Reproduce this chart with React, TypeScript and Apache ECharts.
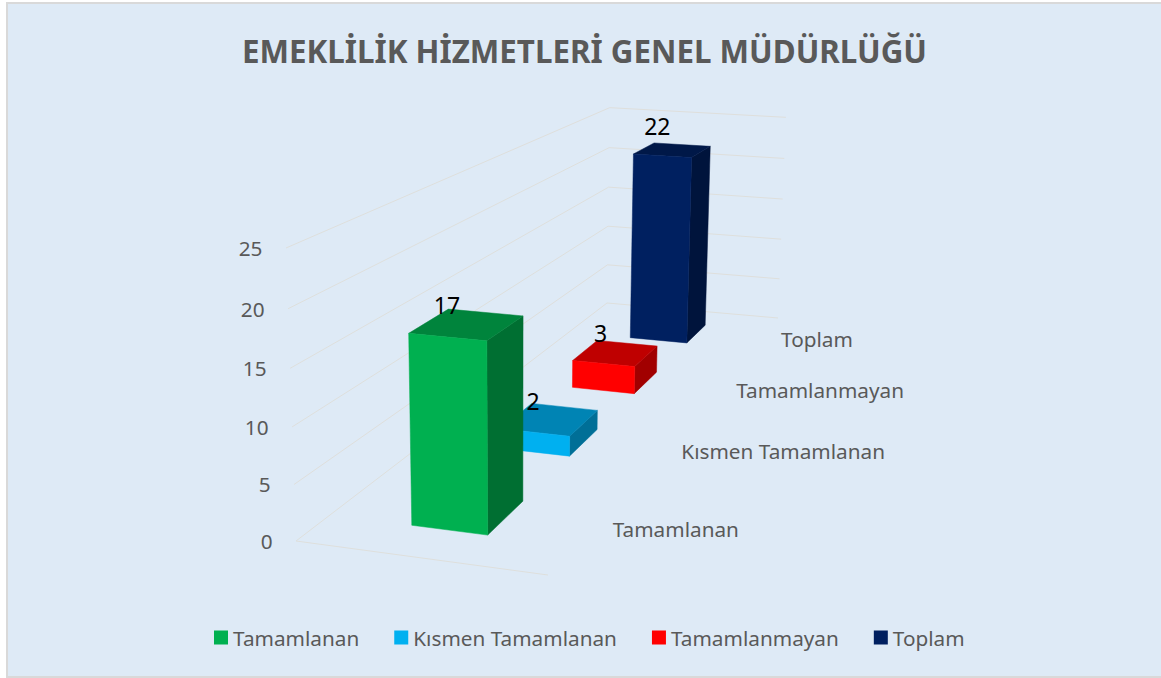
import React, { useEffect, useRef } from "react";
import * as echarts from "echarts";

const titleText = "EMEKLİLİK HİZMETLERİ GENEL MÜDÜRLÜĞÜ";
const categories = ["Tamamlanan", "Kısmen Tamamlanan", "Tamamlanmayan", "Toplam"];
const values = [17, 2, 3, 22];
const colors = ["#00B050", "#00B0F0", "#FF0000", "#002060"];
const ticks = [0, 5, 10, 15, 20, 25];

const AXIS_MAX = 25;
const GRID = { left: 272, top: 248, height: 293.7, width: 500 };
const FONT = "Noto Sans";
const TEXT = "#595959";
const GRIDLINE = "#DEDFDC";
const LABEL_SIZE = 20.75;

// Projective camera of the 3D scene: u = along the front edge, v = value / max, w = depth
const project = (u: number, v: number, w: number): number[] => {
  const d = -0.04291 * u + 0.5314 * w - 0.04353 * v + 1;
  return [
    (228.48 * u + 633.57 * w - 22.46 * v + 296) / d,
    (9.33 * u - 77 * w - 303.8 * v + 541) / d,
  ];
};

const BAR_U0 = 0.344;
const BAR_U1 = 0.656;
const BAR_HALF_DEPTH = 0.05;
const LABEL_U = 1.1;
const valueLabelDx = [-20, -17, -15, -15];
const valueLabelDy = [-19, -18, -20, -24];

const shade = (hex: string, k: number) => {
  const n = parseInt(hex.slice(1), 16);
  const c = [(n >> 16) & 255, (n >> 8) & 255, n & 255].map((x) => Math.round(x * k));
  return `rgb(${c[0]},${c[1]},${c[2]})`;
};

const textEl = (text: string, x: number, y: number, fontSize: number, fill: string, align: string) => ({
  type: "text",
  silent: true,
  style: {
    text, x, y, fill, fontSize, fontFamily: FONT,
    align, textAlign: align, verticalAlign: "middle", textVerticalAlign: "middle",
  },
});

const poly = (points: number[][], color: string) => ({
  type: "polygon",
  silent: true,
  shape: { points },
  style: { fill: color, stroke: color, lineWidth: 0.5 },
});

const renderGrid = (_: any, api: any) => {
  const val = api.value(1);
  const v = api.size([0, val])[1] / api.size([0, AXIS_MAX])[1];
  const line = (a: number[], b: number[]) => ({
    type: "line",
    silent: true,
    shape: { x1: a[0], y1: a[1], x2: b[0], y2: b[1] },
    style: { stroke: GRIDLINE, lineWidth: 1 },
  });
  const corner = project(0, v, 0);
  const children: any[] = [
    line(corner, project(0, v, 1)),
    line(project(0, v, 1), project(1, v, 1)),
    textEl(String(val), corner[0] - 23.5, corner[1], LABEL_SIZE, TEXT, "right"),
  ];
  if (v === 0) children.push(line(project(0, 0, 0), project(1, 0, 0)));
  return { type: "group", children };
};

const renderBar = (color: string, name: string) => (_: any, api: any) => {
  const idx = api.value(0);
  const val = api.value(1);
  const v = api.size([0, val])[1] / api.size([0, AXIS_MAX])[1];
  const mid = (idx + 0.5) / categories.length;
  const w0 = mid - BAR_HALF_DEPTH;
  const w1 = mid + BAR_HALF_DEPTH;
  const fb = project(BAR_U0, 0, w0);
  const gb = project(BAR_U1, 0, w0);
  const hb = project(BAR_U1, 0, w1);
  const ft = project(BAR_U0, v, w0);
  const gt = project(BAR_U1, v, w0);
  const ht = project(BAR_U1, v, w1);
  const it = project(BAR_U0, v, w1);
  const top = project((BAR_U0 + BAR_U1) / 2, v, mid);
  const lab = project(LABEL_U, 0, mid);
  return {
    type: "group",
    children: [
      poly([gb, hb, ht, gt], shade(color, 0.63)),
      poly([ft, gt, ht, it], shade(color, 0.75)),
      poly([fb, gb, gt, ft], color),
      textEl(String(val), top[0] + valueLabelDx[idx], top[1] + valueLabelDy[idx], 23, "#000000", "center"),
      textEl(name, lab[0] - 2 + idx * 2, lab[1] - 2, LABEL_SIZE, TEXT, "left"),
    ],
  };
};

const option = () => {
  const order = categories.map((_, i) => i).reverse();
  return {
    animation: false,
    backgroundColor: "#FFFFFF",
    title: {
      text: titleText,
      left: 579.5,
      top: 30,
      textAlign: "center",
      textStyle: { fontFamily: FONT, fontWeight: "bold", fontSize: 31.3, color: TEXT },
    },
    graphic: {
      elements: [
        {
          type: "rect", z: -10, silent: true,
          shape: { x: 7, y: 3, width: 1165, height: 674 },
          style: { fill: "#DEEAF6", stroke: "#D9D9D9", lineWidth: 2 },
        },
      ],
    },
    legend: {
      data: categories,
      left: 209,
      top: 622,
      icon: "rect",
      itemWidth: 14,
      itemHeight: 14,
      itemGap: 35,
      textStyle: { fontFamily: FONT, fontSize: LABEL_SIZE, color: TEXT },
      selectedMode: false,
    },
    grid: { ...GRID },
    xAxis: { type: "category", data: categories, show: false },
    yAxis: { type: "value", min: 0, max: AXIS_MAX, interval: 5, show: false },
    series: [
      {
        name: "grid",
        type: "custom",
        coordinateSystem: "cartesian2d",
        renderItem: renderGrid,
        data: ticks.map((t) => [0, t]),
        encode: { x: 0, y: 1 },
        silent: true,
      },
      ...order.map((i) => ({
        name: categories[i],
        type: "custom",
        coordinateSystem: "cartesian2d",
        renderItem: renderBar(colors[i], categories[i]),
        itemStyle: { color: colors[i] },
        data: [[i, values[i]]],
        encode: { x: 0, y: 1 },
        silent: true,
      })),
    ],
  };
};

export default function App() {
  const ref = useRef<HTMLDivElement>(null);
  useEffect(() => {
    const chart = echarts.init(ref.current!, undefined, { renderer: "svg" });
    chart.setOption(option() as any);
    return () => chart.dispose();
  }, []);
  return <div ref={ref} style={{ position: "fixed", left: 0, top: 0, width: 1161, height: 678 }} />;
}
